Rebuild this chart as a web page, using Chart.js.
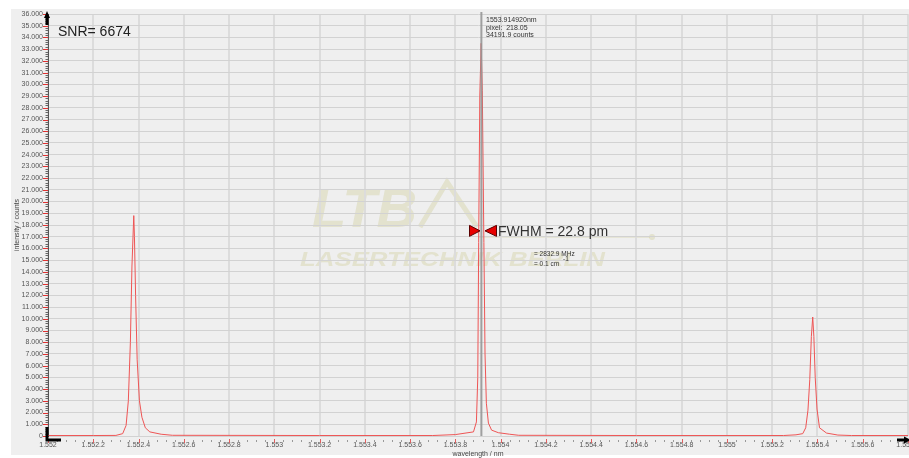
<!DOCTYPE html>
<html>
<head>
<meta charset="utf-8">
<script src="https://cdn.jsdelivr.net/npm/chart.js@4.4.1/dist/chart.umd.min.js"></script>
<style>
  html, body { margin: 0; padding: 0; background: #fff; }
  #wrap { width: 909px; height: 458px; }
</style>
</head>
<body>
<div id="wrap"><canvas id="spektrum" width="909" height="458"></canvas></div>
<script>
// spectrum (wavelength in nm, intensity in counts)
const wavelength = [
  1552.00, 1552.20, 1552.30, 1552.330, 1552.345, 1552.355, 1552.364, 1552.371, 1552.379, 1552.382,
  1552.387, 1552.394, 1552.404, 1552.415, 1552.430, 1552.450, 1552.500, 1552.550,
  1553.20, 1553.700, 1553.800, 1553.880, 1553.893, 1553.899, 1553.903, 1553.908, 1553.914, 1553.919,
  1553.926, 1553.931, 1553.937, 1553.946, 1553.960, 1553.990, 1554.040, 1554.080,
  1554.60, 1555.250, 1555.305, 1555.335, 1555.348, 1555.358, 1555.366, 1555.373, 1555.379, 1555.384,
  1555.390, 1555.398, 1555.409, 1555.440, 1555.490, 1555.550, 1555.80
];
const counts = [
  40, 40, 50, 200, 900, 3000, 8000, 14500, 18800, 17000,
  12000, 6500, 3000, 1600, 700, 350, 150, 60,
  40, 40, 120, 350, 1200, 5000, 16500, 29000, 33500, 29500,
  16500, 7000, 2800, 1100, 500, 280, 150, 60,
  40, 40, 100, 200, 700, 2200, 4800, 8500, 10150, 8500,
  5000, 2300, 700, 250, 80, 40, 40
];

const xMin = 1552.0;
const xMax = 1555.8;
const xStep = 0.2;
const yMax = 36000;
const yStep = 1000;

const cursorWl = 1553.914920;
const cursorText = ['1553.914920nm', 'pixel:  218.05', '34191.9 counts'];
const snrText = 'SNR= 6674';
const fwhmText = 'FWHM = 22.8 pm';
const fwhmCounts = 17500;
const xTitle = 'wavelength / nm';
const yTitle = 'intensity / counts';

const schrift = '"Liberation Sans", Arial, sans-serif';

function xLabel(v) {
  const r = Math.round(v * 10) / 10;
  const ganz = Math.floor(r + 1e-6);
  const dez = Math.round((r - ganz) * 10);
  const s = String(ganz);
  return s.slice(0, 1) + '.' + s.slice(1) + (dez ? '.' + dez : '');
}

function yLabel(v) {
  if (v === 0) return '0';
  return Math.round(v / 1000) + '.000';
}

const hintergrund = {
  id: 'hintergrund',
  beforeDraw(chart) {
    const ctx = chart.ctx;
    ctx.save();
    ctx.fillStyle = '#ffffff';
    ctx.fillRect(0, 0, chart.width, chart.height);
    ctx.fillStyle = '#efefef';
    ctx.fillRect(11, 9, chart.width - 11, 446);

    // watermark
    ctx.fillStyle = 'rgba(200,195,130,0.30)';
    ctx.strokeStyle = 'rgba(200,195,130,0.30)';
    ctx.textBaseline = 'alphabetic';
    ctx.font = 'italic bold 56px ' + schrift;
    let w = ctx.measureText('LTB').width;
    ctx.save();
    ctx.translate(312, 227);
    ctx.scale(105 / w, 1);
    ctx.fillText('LTB', 0, 0);
    ctx.restore();
    ctx.lineWidth = 5;
    ctx.beginPath();
    ctx.moveTo(420, 227);
    ctx.lineTo(447, 182);
    ctx.lineTo(477, 227);
    ctx.stroke();
    ctx.lineWidth = 1.5;
    ctx.beginPath();
    ctx.moveTo(478, 237);
    ctx.lineTo(650, 237);
    ctx.stroke();
    ctx.beginPath();
    ctx.arc(652, 237, 3, 0, Math.PI * 2);
    ctx.fill();
    ctx.font = 'italic bold 21px ' + schrift;
    w = ctx.measureText('LASERTECHNIK BERLIN').width;
    ctx.save();
    ctx.translate(300, 266);
    ctx.scale(305 / w, 1);
    ctx.fillText('LASERTECHNIK BERLIN', 0, 0);
    ctx.restore();
    ctx.restore();
  }
};

const beschriftung = {
  id: 'beschriftung',
  afterDraw(chart) {
    const ctx = chart.ctx;
    const xs = chart.scales.x;
    const ys = chart.scales.y;
    const area = chart.chartArea;
    ctx.save();

    // minor + major ticks on y
    for (let v = 0; v <= yMax; v += 200) {
      const py = Math.round(ys.getPixelForValue(v)) + 0.5;
      ctx.beginPath();
      if (v % yStep === 0) {
        ctx.strokeStyle = '#e03030';
        ctx.moveTo(43, py);
        ctx.lineTo(48, py);
      } else {
        ctx.strokeStyle = '#666';
        ctx.moveTo(45.5, py);
        ctx.lineTo(48, py);
      }
      ctx.stroke();
    }
    // minor + major ticks on x
    for (let i = 0; i <= 95; i++) {
      const v = xMin + i * 0.04;
      const px = Math.round(xs.getPixelForValue(v)) + 0.5;
      ctx.beginPath();
      if (i % 5 === 0) {
        ctx.strokeStyle = '#e06060';
        ctx.moveTo(px, 439);
        ctx.lineTo(px, 443);
      } else {
        ctx.strokeStyle = '#999';
        ctx.moveTo(px, 440);
        ctx.lineTo(px, 442);
      }
      ctx.stroke();
    }

    // cursor line
    const cx = xs.getPixelForValue(cursorWl);
    ctx.strokeStyle = 'rgba(150,150,150,0.9)';
    ctx.lineWidth = 2;
    ctx.beginPath();
    ctx.moveTo(cx, 12);
    ctx.lineTo(cx, area.bottom);
    ctx.stroke();

    // arrows
    ctx.fillStyle = '#000';
    ctx.strokeStyle = '#000';
    ctx.lineWidth = 3;
    ctx.beginPath();
    ctx.moveTo(47, 25);
    ctx.lineTo(47, 16);
    ctx.stroke();
    ctx.beginPath();
    ctx.moveTo(47, 11);
    ctx.lineTo(44, 18);
    ctx.lineTo(50, 18);
    ctx.closePath();
    ctx.fill();
    ctx.beginPath();
    ctx.moveTo(47, 427);
    ctx.lineTo(47, 440);
    ctx.lineTo(61, 440);
    ctx.stroke();
    ctx.beginPath();
    ctx.moveTo(897, 440);
    ctx.lineTo(905, 440);
    ctx.stroke();
    ctx.beginPath();
    ctx.moveTo(911, 440);
    ctx.lineTo(904, 436.5);
    ctx.lineTo(904, 443.5);
    ctx.closePath();
    ctx.fill();

    // texts
    ctx.fillStyle = '#222';
    ctx.textAlign = 'left';
    ctx.textBaseline = 'alphabetic';
    ctx.font = '14px ' + schrift;
    ctx.fillText(snrText, 58, 36);

    ctx.fillStyle = '#333';
    ctx.font = '7px ' + schrift;
    cursorText.forEach((t, i) => ctx.fillText(t, 486, 22 + i * 7.5));

    // FWHM markers
    const fy = ys.getPixelForValue(fwhmCounts);
    ctx.lineWidth = 1;
    ctx.fillStyle = '#e80000';
    ctx.strokeStyle = '#5a0000';
    ctx.beginPath();
    ctx.moveTo(469.5, fy - 5.5);
    ctx.lineTo(469.5, fy + 5.5);
    ctx.lineTo(480, fy);
    ctx.closePath();
    ctx.fill();
    ctx.stroke();
    ctx.beginPath();
    ctx.moveTo(496.5, fy - 5.5);
    ctx.lineTo(496.5, fy + 5.5);
    ctx.lineTo(485, fy);
    ctx.closePath();
    ctx.fill();
    ctx.stroke();

    ctx.fillStyle = '#333';
    ctx.font = '14px ' + schrift;
    ctx.fillText(fwhmText, 498, fy + 5);
    ctx.font = '6.5px ' + schrift;
    ctx.fillText('= 2832.9 MHz', 534, 256);
    ctx.fillText('= 0.1 cm', 534, 266);
    ctx.fillText('-1', 563, 261);

    // axis titles
    ctx.fillStyle = '#444';
    ctx.font = '7px ' + schrift;
    ctx.textAlign = 'center';
    ctx.fillText(xTitle, 478, 456);
    ctx.save();
    ctx.translate(19, (area.top + area.bottom) / 2);
    ctx.rotate(-Math.PI / 2);
    ctx.fillText(yTitle, 0, 0);
    ctx.restore();

    ctx.restore();
  }
};

const ctx = document.getElementById('spektrum').getContext('2d');

new Chart(ctx, {
  type: 'line',
  data: {
    datasets: [{
      label: 'Spektrum',
      data: wavelength.map((w, i) => ({ x: w, y: counts[i] })),
      borderColor: 'rgb(238,85,85)',
      borderWidth: 1,
      pointRadius: 0,
      tension: 0,
      fill: false
    }]
  },
  options: {
    responsive: false,
    animation: false,
    layout: { padding: { top: 14, left: 0, right: 1, bottom: 0 } },
    plugins: {
      legend: { display: false },
      tooltip: { enabled: false }
    },
    scales: {
      x: {
        type: 'linear',
        min: xMin,
        max: xMax,
        afterFit(scale) {
          scale.height = 22;
          scale.paddingLeft = 0;
          scale.paddingRight = 0;
        },
        ticks: {
          stepSize: xStep,
          autoSkip: false,
          maxRotation: 0,
          padding: 5,
          color: '#555',
          font: { family: schrift, size: 7 },
          callback: (v) => xLabel(v)
        },
        grid: { color: '#dcdcdc', lineWidth: 2, drawTicks: false },
        border: { display: false }
      },
      y: {
        min: 0,
        max: yMax,
        afterFit(scale) {
          scale.width = 48;
          scale.paddingTop = 0;
          scale.paddingBottom = 0;
        },
        ticks: {
          stepSize: yStep,
          autoSkip: false,
          padding: 5,
          color: '#555',
          font: { family: schrift, size: 7 },
          callback: (v) => yLabel(v)
        },
        grid: { color: '#d2d2d2', lineWidth: 1, drawTicks: false },
        border: { display: true, color: '#555', width: 1 }
      }
    }
  },
  plugins: [hintergrund, beschriftung]
});
</script>
</body>
</html>
